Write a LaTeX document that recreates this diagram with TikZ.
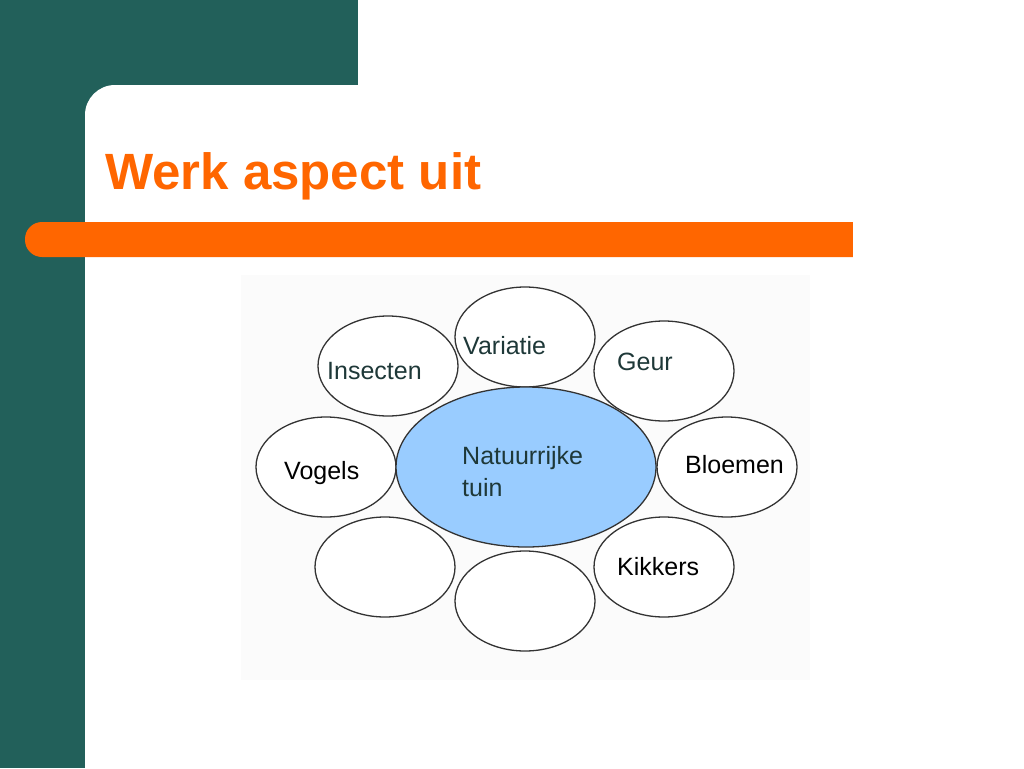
\documentclass[tikz,border=0pt]{standalone}
\usepackage{fontspec}
\setmainfont{Liberation Sans}
\usetikzlibrary{shapes.geometric}
\definecolor{teal1}{HTML}{22605A}
\definecolor{orng}{HTML}{FF6600}
\definecolor{lblue}{HTML}{99CCFF}
\definecolor{dtext}{HTML}{1E3838}
\definecolor{imgbg}{HTML}{FBFBFB}
\definecolor{edge}{HTML}{333333}
\tikzset{
  bubble/.style={ellipse, draw=edge, line width=1.3pt, fill=white, minimum width=140pt, minimum height=100pt, inner sep=0pt},
  hub/.style={ellipse, draw=edge, line width=1.3pt, fill=lblue, minimum width=260pt, minimum height=160pt, inner sep=0pt},
  lbl/.style={anchor=west, inner sep=0pt, font=\fontsize{25}{32}\selectfont, align=left},
}
\begin{document}
\begin{tikzpicture}[x=1pt,y=-1pt]
\useasboundingbox (0,0) rectangle (1024,768);
\fill[white] (0,0) rectangle (1024,768);
\fill[teal1] (0,0) rectangle (358,85);
\fill[teal1] (0,0) rectangle (85,768);
\fill[teal1] (85,85) rectangle (120,120);
\fill[white, rounded corners=30pt] (85,85) rectangle (300,300);
\node[anchor=base west, inner sep=0pt, text=orng, font=\fontsize{51}{60}\selectfont\bfseries] (title) at (105,189) {Werk aspect uit};
\fill[orng, rounded corners=17pt] (25,222) rectangle (880,257);
\fill[white] (853,215) rectangle (900,265);
\fill[imgbg] (241,275) rectangle (810,680);
\node[bubble] (insecten) at (388,366) {};
\node[bubble] (variatie) at (525,337) {};
\node[bubble] (geur) at (664,371) {};
\node[bubble] (vogels) at (326,467) {};
\node[bubble] (bloemen) at (727,467) {};
\node[bubble] (leeg1) at (385,567) {};
\node[bubble] (leeg2) at (525,601) {};
\node[bubble] (kikkers) at (664,567) {};
\node[hub] (tuin) at (526,467) {};
\node[lbl, text=dtext] (tInsecten) at (327,371) {Insecten};
\node[lbl, text=dtext] (tVariatie) at (463,346) {Variatie};
\node[lbl, text=dtext] (tGeur) at (617,362) {Geur};
\node[lbl, text=black] (tVogels) at (284,473) {Vogels};
\node[lbl, text=black] (tBloemen) at (685,465) {Bloemen};
\node[lbl, text=black] (tKikkers) at (617,567) {Kikkers};
\node[lbl, text=dtext] (tTuin) at (462,472) {Natuurrijke\\tuin};
\end{tikzpicture}
\end{document}
